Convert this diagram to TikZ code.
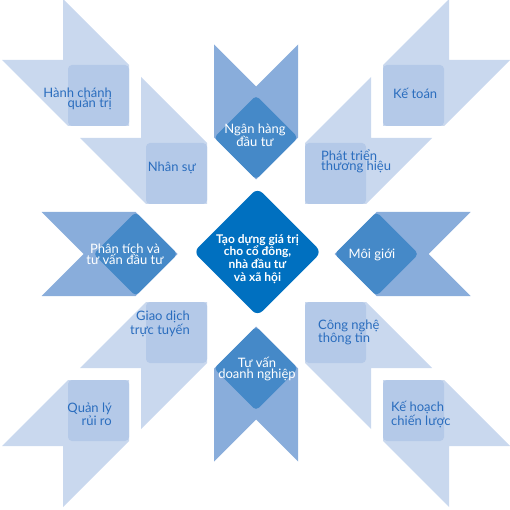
\documentclass[tikz,border=0pt]{standalone}
\usepackage{fontspec}
\setmainfont{Lato}
\definecolor{tailL}{HTML}{C9D8EE}
\definecolor{sqL}{HTML}{B4C9E8}
\definecolor{chevL}{HTML}{89ADDB}
\definecolor{diaM}{HTML}{4589C8}
\definecolor{cenD}{HTML}{0070C0}
\definecolor{txtB}{HTML}{2A6DBE}
\newcommand\diagitem[3]{%
 \begin{scope}[shift={(256,253)}, xscale=#1, yscale=#2]
  \pgfmathsetmacro\qa{#3}\pgfmathsetmacro\qb{#3+61}%
  \pgfmathsetmacro\qc{#3+66}\pgfmathsetmacro\qd{#3+127}%
  \fill[tail] (\qc,\qd) -- (\qa,\qb) -- (\qa,\qa) -- (\qb,\qa) -- (\qd,\qc) -- (\qc,\qc) -- cycle;
  \fill[sq] (\qa,\qa) rectangle (\qb,\qb);
 \end{scope}}
\newcommand\vchev[1]{%
 \begin{scope}[shift={(256,253)}, yscale=#1]
  \fill[chev] (-42,115.5) -- (-42,208.5) -- (0,166.5) -- (42,208.5) -- (42,115.5) -- (0,73.5) -- cycle;
  \fill[dia] (0,73.5) -- (42,115.5) -- (0,157.5) -- (-42,115.5) -- cycle;
 \end{scope}}
\newcommand\hchev[1]{%
 \begin{scope}[shift={(256,254)}, xscale=#1]
  \fill[chev] (120.5,-42) -- (214.5,-42) -- (172.5,0) -- (214.5,42) -- (120.5,42) -- (78.5,0) -- cycle;
  \fill[dia] (78.5,0) -- (120.5,-42) -- (162.5,0) -- (120.5,42) -- cycle;
 \end{scope}}
\begin{document}
\begin{tikzpicture}[x=1pt,y=-1pt,
  tail/.style={fill=tailL},
  sq/.style={fill=sqL, rounded corners=4pt},
  chev/.style={fill=chevL},
  dia/.style={fill=diaM, rounded corners=4pt},
  cdia/.style={fill=cenD, rounded corners=7pt},
  lbl/.style={text=txtB, font=\fontsize{13}{10.5}\selectfont, inner sep=0pt},
  wlbl/.style={text=white, font=\fontsize{13}{10.5}\selectfont, inner sep=0pt, align=center},
  clbl/.style={text=white, font=\bfseries\fontsize{12}{12.6}\selectfont, inner sep=0pt, align=center}]
\useasboundingbox (0,0) rectangle (510,510);
\clip (0,0) rectangle (510,510);
% diagonal ribbons
\diagitem{-1}{-1}{127}
\diagitem{-1}{-1}{49}
\diagitem{1}{-1}{127}
\diagitem{1}{-1}{49}
\diagitem{-1}{1}{127}
\diagitem{-1}{1}{49}
\diagitem{1}{1}{127}
\diagitem{1}{1}{49}
% chevrons
\vchev{-1}
\vchev{1}
\hchev{-1}
\hchev{1}
% centre
\fill[cdia] (257.5,188) -- (321.5,252) -- (257.5,316) -- (193.5,252) -- cycle;
% labels (base anchor = baseline of the last line)
\node[lbl, anchor=base east, align=right] (hc) at (112,108) {Hành chánh\\quản trị};
\node[lbl, anchor=base east, align=right] (ns) at (196,172) {Nhân sự};
\node[lbl, anchor=base west, align=left] (kt) at (393,99) {Kế toán};
\node[lbl, anchor=base west, align=left] (pt) at (321,171) {Phát triển\\thương hiệu};
\node[lbl, anchor=base east, align=right] (gd) at (190,334) {Giao dịch\\trực tuyến};
\node[lbl, anchor=base east, align=right] (ql) at (112,425) {Quản lý\\rủi ro};
\node[lbl, anchor=base west, align=left] (cn) at (318,342) {Công nghệ\\thông tin};
\node[lbl, anchor=base west, align=left] (kh) at (391,425) {Kế hoạch\\chiến lược};
\node[wlbl, anchor=base] (nh) at (255,147) {Ngân hàng\\đầu tư};
\node[wlbl, anchor=base] (pv) at (125,264) {Phân tích và\\tư vấn đầu tư};
\node[wlbl, anchor=base] (mg) at (372,258) {Môi giới};
\node[wlbl, anchor=base] (tv) at (257,378) {Tư vấn\\doanh nghiệp};
\node[clbl, anchor=base] (ct) at (257.5,281) {Tạo dựng giá trị\\cho cổ đông,\\nhà đầu tư\\và xã hội};
\end{tikzpicture}
\end{document}
